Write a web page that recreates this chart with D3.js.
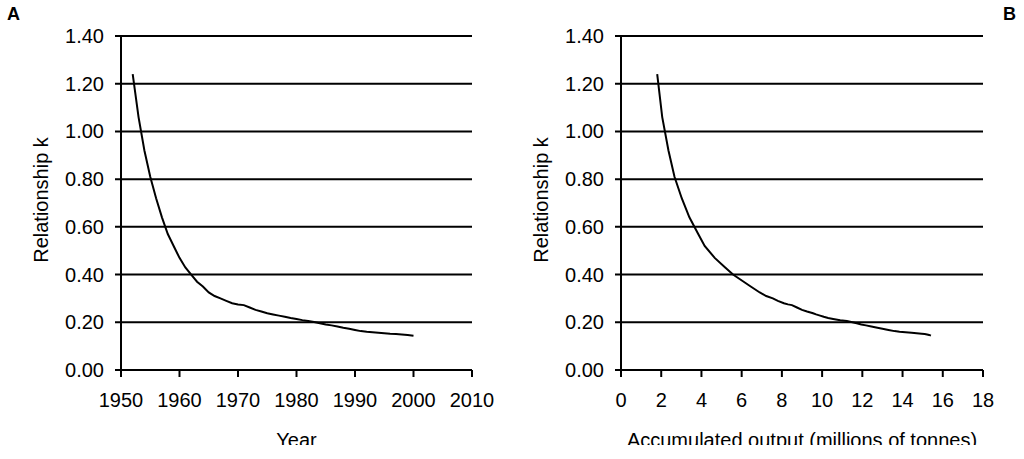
<!DOCTYPE html>
<html>
<head>
<meta charset="utf-8">
<script src="https://cdn.jsdelivr.net/npm/d3@7"></script>
<style>
  body { margin: 0; background: #fff; }
  svg text { font-family: "Liberation Sans", Arial, sans-serif; fill: #000; }
</style>
</head>
<body>
<div id="chart"></div>
<script>
// datos
const years = [1952, 1953, 1954, 1955, 1956, 1957, 1958, 1959, 1960, 1961,
  1962, 1963, 1964, 1965, 1966, 1967, 1968, 1969, 1970, 1971,
  1972, 1973, 1974, 1975, 1976, 1977, 1978, 1979, 1980, 1981,
  1982, 1983, 1984, 1985, 1986, 1987, 1988, 1989, 1990, 1991,
  1992, 1993, 1994, 1995, 1996, 1997, 1998, 1999, 2000];

const kValues = [1.24, 1.06, 0.92, 0.81, 0.72, 0.64, 0.57, 0.52, 0.47, 0.43,
  0.40, 0.37, 0.35, 0.325, 0.31, 0.30, 0.29, 0.28, 0.275, 0.272,
  0.262, 0.252, 0.245, 0.238, 0.233, 0.228, 0.223, 0.218, 0.214, 0.209,
  0.205, 0.201, 0.196, 0.191, 0.187, 0.182, 0.177, 0.173, 0.168, 0.163,
  0.160, 0.158, 0.156, 0.154, 0.152, 0.151, 0.149, 0.147, 0.144];

const accumOutput = [1.80, 2.05, 2.36, 2.66, 3.02, 3.40, 3.84, 4.16, 4.66, 5.18,
  5.57, 6.10, 6.45, 6.90, 7.22, 7.55, 7.80, 8.10, 8.30, 8.50,
  8.75, 9.00, 9.25, 9.55, 9.70, 9.90, 10.08, 10.30, 10.55, 10.90,
  11.23, 11.45, 11.72, 11.95, 12.18, 12.45, 12.75, 13.00, 13.30, 13.60,
  13.85, 14.15, 14.45, 14.70, 14.95, 15.10, 15.22, 15.32, 15.41];

const yTicks = [0, 0.2, 0.4, 0.6, 0.8, 1.0, 1.2, 1.4];
const yearTicks = [1950, 1960, 1970, 1980, 1990, 2000, 2010];
const outputTicks = [0, 2, 4, 6, 8, 10, 12, 14, 16, 18];

const width = 1024, height = 459;

const svg = d3.select("#chart").append("svg")
    .attr("width", width)
    .attr("height", height);

// Dibuja un panel
function drawPanel(opts) {
    const x = d3.scaleLinear().domain(opts.xDomain).range([opts.left, opts.right]);
    const y = d3.scaleLinear().domain([0, 1.4]).range([370, 36]);

    const g = svg.append("g");

    // lineas horizontales
    g.selectAll("line.grid")
        .data(yTicks)
        .enter()
        .append("line")
        .attr("x1", opts.left - 6)
        .attr("x2", opts.right)
        .attr("y1", d => y(d))
        .attr("y2", d => y(d))
        .attr("stroke", "#000")
        .attr("stroke-width", 2);

    // etiquetas eje y
    g.selectAll("text.ylab")
        .data(yTicks)
        .enter()
        .append("text")
        .attr("x", opts.left - 17)
        .attr("y", d => y(d) + 7)
        .attr("text-anchor", "end")
        .attr("font-size", "20px")
        .text(d => d3.format(".2f")(d));

    // eje y
    g.append("line")
        .attr("x1", opts.left).attr("x2", opts.left)
        .attr("y1", y(1.4) - 1).attr("y2", y(0) + 1)
        .attr("stroke", "#000")
        .attr("stroke-width", 2);

    // ticks eje x
    g.selectAll("line.xtick")
        .data(opts.xTicks)
        .enter()
        .append("line")
        .attr("x1", d => x(d)).attr("x2", d => x(d))
        .attr("y1", y(0)).attr("y2", y(0) + 7)
        .attr("stroke", "#000")
        .attr("stroke-width", 2);

    g.selectAll("text.xlab")
        .data(opts.xTicks)
        .enter()
        .append("text")
        .attr("x", d => x(d))
        .attr("y", 407)
        .attr("text-anchor", "middle")
        .attr("font-size", "20px")
        .text(d => d);

    // curva
    const line = d3.line()
        .x((d, i) => x(opts.xValues[i]))
        .y(d => y(d));

    g.append("path")
        .datum(kValues)
        .attr("d", line)
        .attr("fill", "none")
        .attr("stroke", "#000")
        .attr("stroke-width", 2);

    // titulos
    g.append("text")
        .attr("transform", `translate(${opts.left - 73},${(y(0) + y(1.4)) / 2 - 3}) rotate(-90)`)
        .attr("text-anchor", "middle")
        .attr("font-size", "20px")
        .text("Relationship k");

    g.append("text")
        .attr("x", (opts.left + opts.right) / 2)
        .attr("y", 447)
        .attr("text-anchor", "middle")
        .attr("font-size", "20px")
        .text(opts.xTitle);

    g.append("text")
        .attr("x", opts.letterX)
        .attr("y", 20)
        .attr("font-size", "18px")
        .attr("font-weight", "bold")
        .text(opts.letter);
}

drawPanel({
    left: 121, right: 472,
    xDomain: [1950, 2010],
    xTicks: yearTicks,
    xValues: years,
    xTitle: "Year",
    letter: "A", letterX: 7
});

drawPanel({
    left: 621, right: 983,
    xDomain: [0, 18],
    xTicks: outputTicks,
    xValues: accumOutput,
    xTitle: "Accumulated output (millions of tonnes)",
    letter: "B", letterX: 1003
});

// la imagen original esta recortada abajo
svg.append("rect")
    .attr("x", 0).attr("y", 445)
    .attr("width", width).attr("height", height - 445)
    .attr("fill", "#fff");
</script>
</body>
</html>
